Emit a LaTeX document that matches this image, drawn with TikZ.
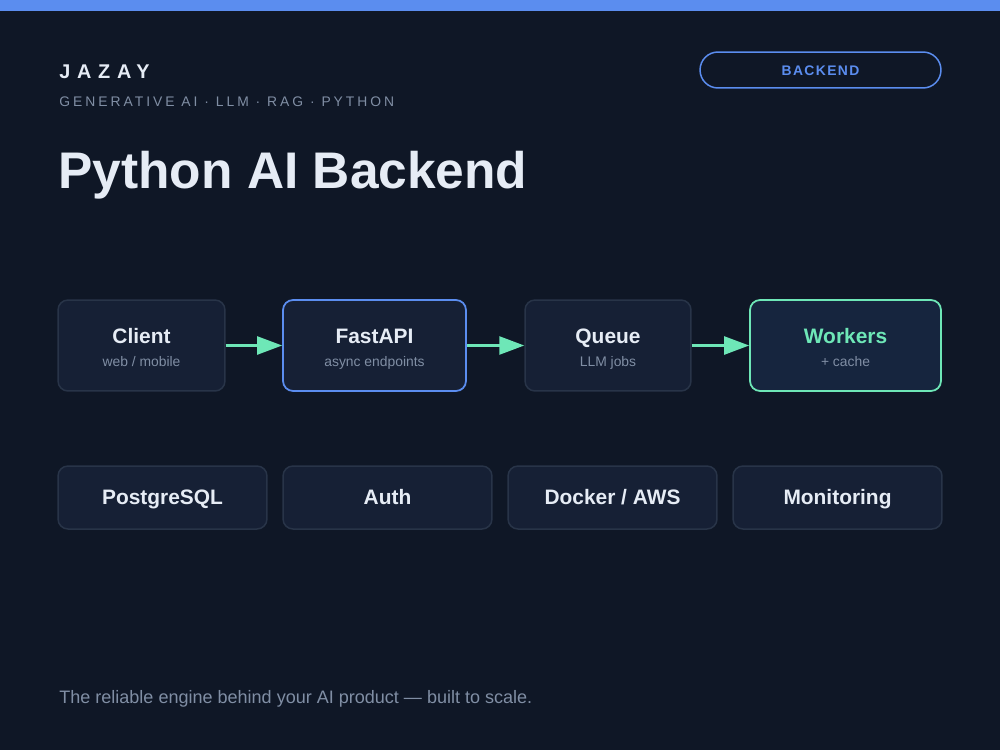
\documentclass[tikz,border=0pt]{standalone}
\usepackage{fontspec}
\setmainfont{Liberation Sans}
\newfontfamily\brandfont[LetterSpace=34]{Liberation Sans}
\newfontfamily\tagfont[LetterSpace=21.5]{Liberation Sans}
\newfontfamily\pillfont[LetterSpace=10]{Liberation Sans}
\usepackage{tikz}
\usetikzlibrary{positioning,arrows.meta}
\definecolor{bg}{RGB}{15,23,38}
\definecolor{boxfill}{RGB}{22,32,53}
\definecolor{boxfill2}{RGB}{22,37,62}
\definecolor{boxline}{RGB}{40,52,72}
\definecolor{accent}{RGB}{91,141,239}
\definecolor{accent2}{RGB}{110,231,183}
\definecolor{ink}{RGB}{230,236,245}
\definecolor{muted}{RGB}{128,142,164}
\tikzset{
  blk/.style={draw=boxline,fill=boxfill,rounded corners=0.2cm,line width=0.03cm,minimum height=1.82cm,inner sep=0pt},
  tile/.style={blk,minimum height=1.26cm,minimum width=4.18cm},
  ttl/.style={anchor=base,text=ink,font=\fontsize{11.9pt}{14pt}\selectfont\bfseries},
  sub/.style={anchor=base,text=muted,font=\fontsize{7.9pt}{9.5pt}\selectfont},
  ar/.style={-{Triangle[length=0.5cm,width=0.36cm]},line width=0.05cm,accent2},
}

\begin{document}
\begin{tikzpicture}[x=0.02cm,y=-0.02cm]
  % page and top bar
  \fill[bg] (0,0) rectangle (1000,750);
  \fill[accent] (0,0) rectangle (1000,11);
  % header
  \node[anchor=base west,inner sep=0pt,text=ink,font=\fontsize{11.3pt}{13pt}\brandfont\bfseries] (brand) at (59,79) {JAZAY};
  \node[anchor=base west,inner sep=0pt,text=muted,font=\fontsize{7.9pt}{9.5pt}\tagfont] (tags) at (59,107) {GENERATIVE AI · LLM · RAG · PYTHON};
  \node[anchor=base west,inner sep=0pt,text=ink,font=\fontsize{29.3pt}{34pt}\selectfont\bfseries] (title) at (58,188) {Python AI Backend};
  \node[draw=accent,line width=0.03cm,rounded corners=0.36cm,minimum width=4.82cm,minimum height=0.72cm,inner sep=0pt] (pill) at (820.5,70) {};
  \node[anchor=base,text=accent,font=\fontsize{7.9pt}{9.5pt}\pillfont\bfseries] (pill-t) at ([yshift=-0.114cm]pill.center) {BACKEND};
  % pipeline
  \node[blk,minimum width=3.34cm] (client) at (141.5,345.5) {};
  \node[blk,minimum width=3.66cm,draw=accent,line width=0.035cm] (fastapi) at (374.5,345.5) {};
  \node[blk,minimum width=3.32cm] (queue) at (608,345.5) {};
  \node[blk,minimum width=3.82cm,draw=accent2,fill=boxfill2,line width=0.035cm] (workers) at (845.5,345.5) {};
  \node[ttl] (client-t) at ([yshift=0.05cm]client.center) {Client};
  \node[sub] (client-s) at ([yshift=-0.43cm]client.center) {web / mobile};
  \node[ttl] (fastapi-t) at ([yshift=0.05cm]fastapi.center) {FastAPI};
  \node[sub] (fastapi-s) at ([yshift=-0.43cm]fastapi.center) {async endpoints};
  \node[ttl] (queue-t) at ([yshift=0.05cm]queue.center) {Queue};
  \node[sub] (queue-s) at ([yshift=-0.43cm]queue.center) {LLM jobs};
  \node[ttl,text=accent2] (workers-t) at ([yshift=0.05cm]workers.center) {Workers};
  \node[sub] (workers-s) at ([yshift=-0.43cm]workers.center) {+ cache};
  \draw[ar] (client) -- (fastapi);
  \draw[ar] (fastapi) -- (queue);
  \draw[ar] (queue) -- (workers);
  % stack
  \node[tile] (pg) at (162.5,497.5) {};
  \node[tile] (auth) at (387.5,497.5) {};
  \node[tile] (docker) at (612.5,497.5) {};
  \node[tile] (mon) at (837.5,497.5) {};
  \node[ttl] (pg-t) at ([yshift=-0.14cm]pg.center) {PostgreSQL};
  \node[ttl] (auth-t) at ([yshift=-0.14cm]auth.center) {Auth};
  \node[ttl] (docker-t) at ([yshift=-0.14cm]docker.center) {Docker / AWS};
  \node[ttl] (mon-t) at ([yshift=-0.14cm]mon.center) {Monitoring};
  % footer
  \node[anchor=base west,inner sep=0pt,text=muted,font=\fontsize{10.26pt}{12pt}\selectfont] (foot) at (59,703) {The reliable engine behind your AI product — built to scale.};
\end{tikzpicture}
\end{document}
